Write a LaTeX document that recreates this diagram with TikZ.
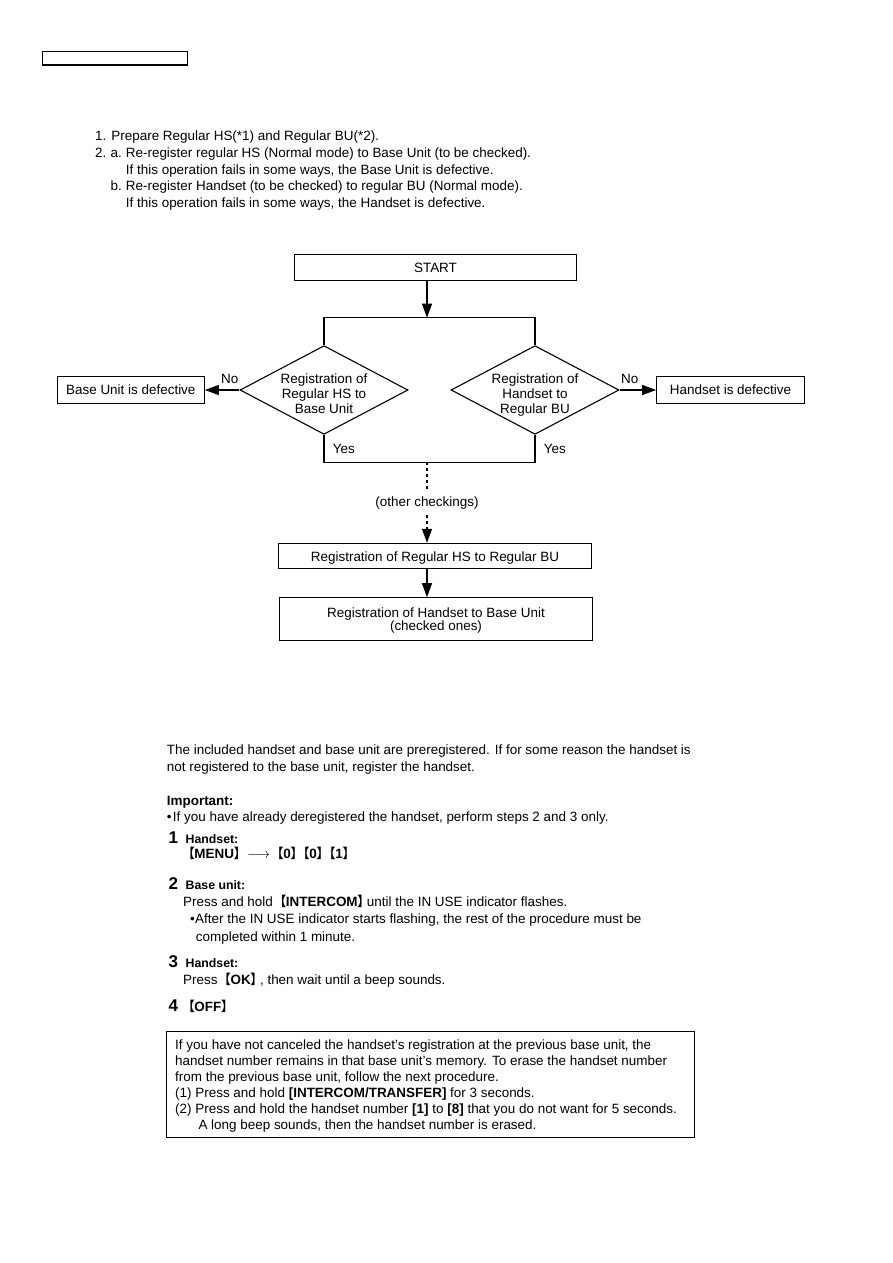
\documentclass[tikz,border=0pt]{standalone}
\usepackage{fontspec}
\setmainfont{Liberation Sans}
\newfontfamily\cjk{Noto Sans CJK SC}
\usetikzlibrary{arrows.meta, shapes.geometric, positioning}

\newcommand\body{\fontsize{13.45}{16.7}\selectfont}
\newcommand\lkey{\kern-.27em{\cjk 【}\kern-.04em}
\newcommand\rkey{\kern-.04em{\cjk 】}\kern-.27em}
\newcommand\key[1]{\lkey\textbf{#1}\rkey}

\begin{document}
\begin{tikzpicture}[x=1pt, y=-1pt,
    every node/.style={font=\body},
    flowbox/.style={draw, line width=1.1pt, inner sep=0pt},
    decision/.style={draw, diamond, aspect=1.9, line width=1.1pt, inner sep=0pt,
        minimum width=168pt, minimum height=88.7pt},
    dtext/.style={align=center, inner sep=0pt, text depth=3.5pt, yshift=-5.5pt,
        font=\fontsize{13.45}{15.3}\selectfont},
    line/.style={line width=1.1pt},
    arr/.style={line width=1.1pt, -{Triangle[length=14pt, width=10pt]}},
    dotline/.style={line width=1.3pt, dash pattern=on 3pt off 3pt},
    txt/.style={anchor=base west, inner sep=0pt},
    num/.style={txt, font=\fontsize{17}{17}\selectfont\bfseries},
    steplabel/.style={txt, font=\fontsize{12.3}{14}\selectfont\bfseries}]
  \useasboundingbox (0,0) rectangle (893,1263);
  \node[draw, line width=1.1pt, inner sep=0pt, minimum width=145pt, minimum height=13.7pt] (hdr) at (114.6,58.2) {};

  % check procedure
  \foreach \x/\y/\t [count=\i] in {
      95/140.7/{1. Prepare Regular HS(*1) and Regular BU(*2).},
      95/157.4/{\makebox[15.5pt][l]{2.}\makebox[15.2pt][l]{a.}Re-register regular HS (Normal mode) to Base Unit (to be checked).},
      125.7/174.0/{If this operation fails in some ways, the Base Unit is defective.},
      110.5/190.7/{\makebox[15.2pt][l]{b.}Re-register Handset (to be checked) to regular BU (Normal mode).},
      125.7/207.4/{If this operation fails in some ways, the Handset is defective.}}
    \node[txt] (chk\i) at (\x,\y) {\t};

  % flow chart
  \node[flowbox, minimum width=282.4pt, minimum height=25.3pt] (start) at (435.5,267.4) {START};
  \coordinate (split) at (427,317.7);
  \node[decision, label={[dtext]center:{Registration of\\Regular HS to\\Base Unit}}] (chkbu) at (324,390) {};
  \node[decision, label={[dtext]center:{Registration of\\Handset to\\Regular BU}}] (chkhs) at (535,390) {};
  \node[flowbox, minimum width=147pt, minimum height=26.7pt] (budef) at (130.8,390) {Base Unit is defective};
  \node[flowbox, minimum width=147.6pt, minimum height=26.7pt] (hsdef) at (730.5,390) {Handset is defective};
  \coordinate (join) at (427,462.3);
  \node[fill=white, inner xsep=2pt, inner ysep=5pt] (other) at (427,503.5) {(other checkings)};
  \node[flowbox, minimum width=313.4pt, minimum height=25pt, text height=12pt, text depth=0pt] (reghsbu) at (435,555.8) {Registration of Regular HS to Regular BU};
  \node[flowbox, minimum width=313.4pt, minimum height=42.3pt, align=center, text depth=0pt,
      font=\fontsize{13.45}{13.2}\selectfont] (reghand) at (436,618.9) {Registration of Handset to Base Unit\\(checked ones)};

  \draw[arr] (start.south -| split) -- (split);
  \draw[line] (chkbu.north) |- (split) -| (chkhs.north);
  \draw[arr] (chkbu.west) -- node[pos=.28, above=2.5pt] {No} (budef.east);
  \draw[arr] (chkhs.east) -- node[pos=.28, above=2.5pt] {No} (hsdef.west);
  \draw[line] (chkbu.south) |- node[pos=.25, right=5pt] {Yes} (join)
      -| node[pos=.75, right=5pt] {Yes} (chkhs.south);
  \draw[dotline] (join) -- (other.north);
  \draw[dotline, -{Triangle[length=14pt, width=10pt]}] (other.south) -- (reghsbu.north -| join);
  \draw[arr] (reghsbu.south -| join) -- (reghand.north -| join);

  % registration steps
  \foreach \x/\y/\t [count=\i] in {
      166.7/754.7/{The included handset and base unit are preregistered. If for some reason the handset is},
      166.7/771.4/{not registered to the base unit, register the handset.},
      166.7/805.4/{\textbf{Important:}},
      166.7/821.4/{\makebox[6pt][l]{•}If you have already deregistered the handset, perform steps 2 and 3 only.},
      185/858/{\key{MENU} \ $\longrightarrow$ \key{0}\key{0}\key{1}},
      183/906.4/{Press and hold \key{INTERCOM} until the IN USE indicator flashes.},
      190/923.7/{\makebox[5pt][l]{•}After the IN USE indicator starts flashing, the rest of the procedure must be},
      195.7/941.4/{completed within 1 minute.},
      183/984/{Press \key{OK}, then wait until a beep sounds.},
      185/1011/{\key{OFF}}}
    \node[txt] (reg\i) at (\x,\y) {\t};
  \foreach \n/\y/\t in {1/843.5/Handset:, 2/889/Base unit:, 3/967/Handset:} {
    \node[num] (num\n) at (168.5,\y) {\n};
    \node[steplabel] (lbl\n) at (185.5,\y) {\t};
  }
  \node[num] (num4) at (168.5,1011) {4};

  % note
  \node[draw, line width=1pt, inner sep=0pt, minimum width=528.3pt, minimum height=105.6pt] (note) at (430.2,1084.5) {};
  \foreach \x/\y/\t [count=\i] in {
      175/1049.7/{If you have not canceled the handset's registration at the previous base unit, the},
      175/1065.7/{handset number remains in that base unit's memory. To erase the handset number},
      175/1081.4/{from the previous base unit, follow the next procedure.},
      175/1097.4/{(1) Press and hold \textbf{[INTERCOM/TRANSFER]} for 3 seconds.},
      175/1113.0/{(2) Press and hold the handset number \textbf{[1]} to \textbf{[8]} that you do not want for 5 seconds.},
      198.3/1129.0/{A long beep sounds, then the handset number is erased.}}
    \node[txt] (note\i) at (\x,\y) {\t};
\end{tikzpicture}
\end{document}
